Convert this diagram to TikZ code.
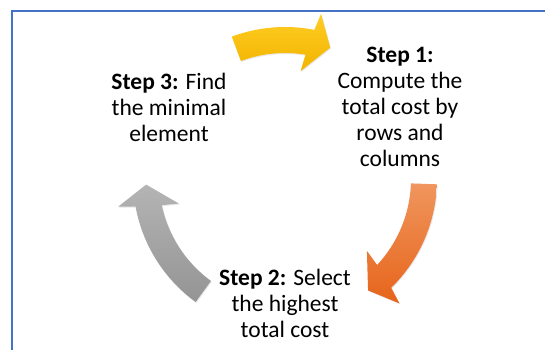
\documentclass[tikz,border=0pt]{standalone}
\usepackage{fontspec}
\setmainfont{Carlito}
\usetikzlibrary{shadows}
\definecolor{frameblue}{HTML}{4472C4}
\definecolor{yelTop}{HTML}{FFCD24}
\definecolor{yelBot}{HTML}{F2B400}
\definecolor{oraTop}{HTML}{F0965E}
\definecolor{oraBot}{HTML}{E6641A}
\definecolor{grTop}{HTML}{B4B4B4}
\definecolor{grBot}{HTML}{949494}
\tikzset{
  steptext/.style={align=center, font=\fontsize{23.5}{26}\selectfont, text=black, inner sep=0pt},
  arrowshadow/.style={drop shadow={shadow xshift=0.8pt, shadow yshift=-1pt, opacity=0.18}},
}
% #1 tail angle, #2 outer barb angle, #3 inner barb angle, #4 tip angle, #5 style
\newcommand{\cycarrow}[5]{%
  \path[#5] (#1:152) arc[start angle=#1, end angle={#2+(#3-#2)*0.283}, radius=152]
    -- (#2:169) -- (#4:139) -- (#3:109)
    -- ({#2+(#3-#2)*0.717}:126) arc[start angle={#2+(#3-#2)*0.717}, end angle=#1, radius=126] -- cycle;}
\begin{document}
\begin{tikzpicture}[x=1pt,y=1pt]
  \useasboundingbox (0,0) rectangle (545,-349);
  \clip (0,0) rectangle (545,-349);
  \fill[white] (0,0) rectangle (545,-349);
  \draw[frameblue, line width=2.6pt] (11.8,-400) -- (11.8,-10.8) -- (600,-10.8);
  \coordinate (C) at (285,-179);
  \begin{scope}[shift={(C)}]
    \cycarrow{110.5}{77.7}{81.8}{71}{arrowshadow, top color=yelTop, bottom color=yelBot}
    \cycarrow{-2}{-47.4}{-41.3}{-53.3}{arrowshadow, top color=oraTop, bottom color=oraBot}
    \cycarrow{234}{189.4}{193}{182.3}{arrowshadow, top color=grTop, bottom color=grBot}
  \end{scope}
  \node[steptext] (s1) at (400,-107) {\textbf{Step 1:}\\Compute the\\total cost by\\rows and\\columns};
  \node[steptext] (s2) at (285,-303) {\textbf{Step 2:} Select\\the highest\\total cost};
  \node[steptext] (s3) at (169,-107) {\textbf{Step 3:} Find\\the minimal\\element};
\end{tikzpicture}
\end{document}
